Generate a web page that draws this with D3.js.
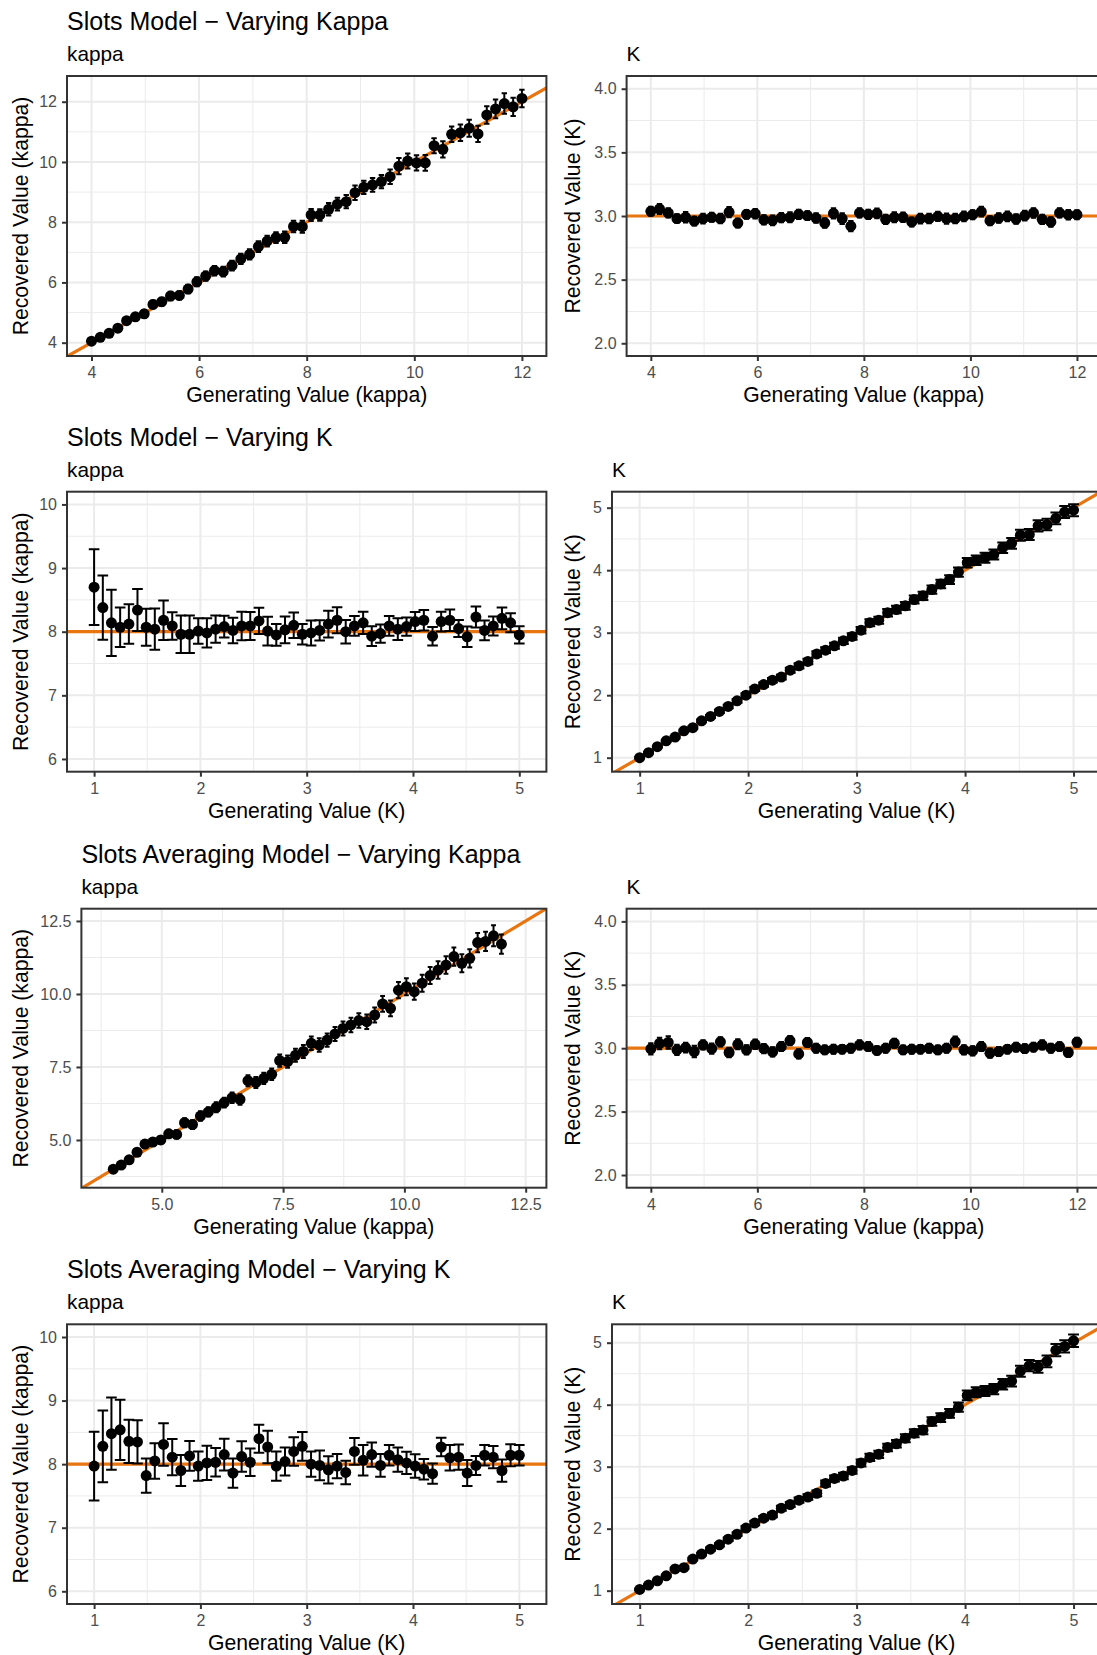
<!DOCTYPE html>
<html>
<head>
<meta charset="utf-8">
<script src="https://cdn.jsdelivr.net/npm/d3@7"></script>
<style>
  body { margin: 0; background: #fff; }
  svg { display: block; }
  text { font-family: "Liberation Sans", Arial, Helvetica, sans-serif; }
</style>
</head>
<body>
<svg id="chart" width="1097" height="1655"></svg>
<script>
// ---- generating values (50 steps each) ----
const genKappa = [4.000,4.163,4.327,4.490,4.653,4.816,4.980,5.143,5.306,5.469,5.633,5.796,5.959,6.122,6.286,6.449,6.612,6.776,6.939,7.102,7.265,7.429,7.592,7.755,7.918,8.082,8.245,8.408,8.571,8.735,8.898,9.061,9.224,9.388,9.551,9.714,9.878,10.041,10.204,10.367,10.531,10.694,10.857,11.020,11.184,11.347,11.510,11.673,11.837,12.000];
const genK = [1.000,1.082,1.163,1.245,1.327,1.408,1.490,1.571,1.653,1.735,1.816,1.898,1.980,2.061,2.143,2.224,2.306,2.388,2.469,2.551,2.633,2.714,2.796,2.878,2.959,3.041,3.122,3.204,3.286,3.367,3.449,3.531,3.612,3.694,3.776,3.857,3.939,4.020,4.102,4.184,4.265,4.347,4.429,4.510,4.592,4.673,4.755,4.837,4.918,5.000];

// fixed parameter values when the other one varies
const fixedK = 3;
const fixedKappa = 8;

// ---- Slots model, varying kappa ----
const slotsVaryKappa_kappa = [4.05,4.18,4.31,4.48,4.73,4.86,4.96,5.27,5.36,5.55,5.57,5.78,6.02,6.21,6.39,6.36,6.56,6.78,6.93,7.19,7.37,7.49,7.50,7.86,7.85,8.24,8.24,8.43,8.60,8.68,8.98,9.16,9.24,9.35,9.51,9.86,10.03,9.97,9.97,10.54,10.42,10.92,10.97,11.12,10.93,11.56,11.76,11.94,11.83,12.11];
const slotsVaryKappa_kappaErr = [0.09,0.10,0.10,0.11,0.11,0.12,0.12,0.13,0.13,0.14,0.14,0.14,0.15,0.15,0.16,0.16,0.16,0.17,0.17,0.18,0.18,0.18,0.19,0.19,0.20,0.20,0.19,0.21,0.21,0.22,0.24,0.22,0.23,0.22,0.24,0.27,0.25,0.25,0.26,0.25,0.27,0.26,0.27,0.28,0.27,0.29,0.31,0.34,0.30,0.29];
const slotsVaryKappa_K = [3.037,3.055,3.024,2.980,2.990,2.960,2.980,2.990,2.980,3.030,2.945,3.013,3.018,2.970,2.966,2.987,2.990,3.013,3.003,2.984,2.945,3.020,2.980,2.920,3.024,3.013,3.020,2.974,2.990,2.990,2.953,2.980,2.980,2.997,2.980,2.980,2.997,3.010,3.034,2.963,2.984,2.997,2.976,3.003,3.024,2.974,2.953,3.024,3.010,3.010];
const slotsVaryKappa_KErr = [0.035,0.040,0.036,0.034,0.042,0.035,0.038,0.036,0.037,0.040,0.036,0.035,0.037,0.036,0.038,0.037,0.040,0.036,0.035,0.038,0.037,0.040,0.042,0.040,0.036,0.037,0.038,0.036,0.039,0.037,0.036,0.038,0.037,0.036,0.040,0.037,0.039,0.036,0.038,0.036,0.037,0.039,0.037,0.038,0.037,0.036,0.038,0.036,0.037,0.036];

// ---- Slots model, varying K ----
const slotsVaryK_kappa = [8.70,8.38,8.14,8.07,8.12,8.34,8.07,8.04,8.18,8.09,7.96,7.96,8.01,7.98,8.04,8.08,8.02,8.09,8.09,8.17,8.01,7.95,8.03,8.10,7.96,7.98,8.02,8.12,8.18,8.00,8.09,8.14,7.93,7.97,8.09,8.04,8.08,8.16,8.18,7.93,8.16,8.18,8.05,7.92,8.23,8.02,8.09,8.21,8.14,7.95];
const slotsVaryK_kappaErr = [0.595,0.505,0.520,0.310,0.310,0.330,0.290,0.325,0.310,0.215,0.295,0.295,0.200,0.230,0.215,0.170,0.200,0.225,0.220,0.205,0.225,0.170,0.210,0.200,0.160,0.195,0.160,0.210,0.205,0.185,0.155,0.175,0.155,0.145,0.155,0.170,0.145,0.150,0.160,0.145,0.155,0.170,0.135,0.160,0.165,0.155,0.150,0.170,0.150,0.135];
const slotsVaryK_K = [1.00,1.08,1.176,1.27,1.33,1.43,1.48,1.59,1.66,1.74,1.82,1.91,2.00,2.10,2.17,2.24,2.29,2.40,2.47,2.54,2.66,2.72,2.79,2.87,2.94,3.04,3.16,3.20,3.32,3.37,3.43,3.53,3.59,3.69,3.78,3.85,3.97,4.12,4.16,4.20,4.25,4.36,4.43,4.56,4.57,4.71,4.73,4.83,4.93,4.96];
const slotsVaryK_KErr = [0.010,0.012,0.013,0.015,0.017,0.019,0.020,0.022,0.024,0.026,0.027,0.029,0.031,0.033,0.034,0.036,0.037,0.039,0.041,0.043,0.045,0.046,0.048,0.050,0.051,0.053,0.056,0.057,0.059,0.060,0.062,0.064,0.065,0.067,0.069,0.070,0.073,0.076,0.077,0.079,0.080,0.083,0.085,0.088,0.088,0.091,0.092,0.094,0.096,0.097];

// ---- Slots averaging model, varying kappa ----
const avgVaryKappa_kappa = [4.00,4.14,4.32,4.58,4.86,4.93,5.00,5.21,5.19,5.59,5.53,5.82,5.96,6.12,6.28,6.45,6.39,7.03,6.97,7.11,7.25,7.72,7.68,7.90,8.03,8.31,8.25,8.42,8.63,8.82,8.94,9.09,9.05,9.28,9.66,9.51,10.13,10.25,10.08,10.37,10.63,10.82,10.99,11.28,11.05,11.22,11.76,11.80,11.99,11.71];
const avgVaryKappa_kappaErr = [0.10,0.11,0.11,0.12,0.13,0.13,0.13,0.14,0.14,0.15,0.15,0.16,0.16,0.17,0.17,0.18,0.18,0.19,0.19,0.19,0.20,0.21,0.21,0.22,0.22,0.23,0.23,0.23,0.24,0.24,0.25,0.25,0.25,0.26,0.27,0.27,0.28,0.29,0.28,0.29,0.29,0.30,0.30,0.31,0.31,0.31,0.33,0.33,0.36,0.33];
const avgVaryKappa_K = [2.995,3.037,3.045,2.987,3.005,2.974,3.026,2.997,3.050,2.966,3.031,2.987,3.031,2.997,2.971,3.013,3.060,2.955,3.045,3.000,2.987,2.992,2.992,3.000,3.026,3.013,2.982,3.000,3.039,2.987,2.992,2.992,3.000,2.987,3.000,3.052,2.987,2.979,3.013,2.961,2.974,2.992,3.008,2.997,3.008,3.026,3.000,3.013,2.966,3.047];
const avgVaryKappa_KErr = [0.045,0.045,0.050,0.040,0.038,0.045,0.036,0.040,0.037,0.038,0.040,0.036,0.038,0.037,0.036,0.035,0.037,0.036,0.035,0.036,0.034,0.035,0.034,0.035,0.036,0.035,0.034,0.035,0.036,0.034,0.035,0.034,0.035,0.034,0.036,0.040,0.036,0.037,0.035,0.036,0.035,0.034,0.035,0.034,0.035,0.036,0.035,0.034,0.033,0.036];

// ---- Slots averaging model, varying K ----
const avgVaryK_kappa = [7.97,8.28,8.48,8.54,8.36,8.35,7.82,8.05,8.31,8.11,7.90,8.13,7.97,8.02,8.03,8.15,7.86,8.12,8.03,8.40,8.27,7.97,8.04,8.20,8.28,8.00,7.98,7.91,7.97,7.87,8.20,8.06,8.15,7.98,8.14,8.07,8.02,7.97,7.92,7.85,8.27,8.10,8.11,7.86,7.98,8.14,8.11,7.90,8.14,8.14];
const avgVaryK_kappaErr = [0.540,0.565,0.570,0.475,0.340,0.340,0.270,0.280,0.335,0.285,0.245,0.235,0.230,0.270,0.225,0.250,0.230,0.240,0.215,0.220,0.255,0.230,0.220,0.225,0.225,0.200,0.235,0.215,0.190,0.185,0.210,0.240,0.190,0.180,0.160,0.190,0.175,0.185,0.160,0.160,0.145,0.200,0.200,0.205,0.150,0.160,0.175,0.175,0.175,0.160];
const avgVaryK_K = [1.02,1.09,1.16,1.24,1.35,1.37,1.51,1.59,1.67,1.74,1.83,1.91,2.01,2.09,2.17,2.22,2.33,2.39,2.46,2.51,2.57,2.73,2.81,2.85,2.94,3.06,3.15,3.20,3.31,3.37,3.46,3.54,3.59,3.73,3.79,3.86,3.96,4.15,4.20,4.22,4.25,4.33,4.38,4.54,4.63,4.61,4.70,4.88,4.94,5.03];
const avgVaryK_KErr = [0.011,0.012,0.014,0.016,0.018,0.019,0.021,0.023,0.025,0.026,0.028,0.030,0.032,0.033,0.035,0.037,0.039,0.040,0.042,0.044,0.046,0.048,0.049,0.051,0.053,0.055,0.057,0.058,0.060,0.062,0.064,0.065,0.067,0.069,0.071,0.072,0.075,0.078,0.080,0.081,0.083,0.085,0.087,0.090,0.091,0.093,0.095,0.098,0.099,0.101];

// ---- axis limits and breaks ----
const limKappaX = [3.545, 12.455];
const limKX = [0.745, 5.255];
const limKFlat = [1.9, 4.1];
const limKappaFlat = [5.8, 10.2];
const breaksKappa = [4, 6, 8, 10, 12];
const minorKappa = [5, 7, 9, 11];
const breaksK = [1, 2, 3, 4, 5];
const minorK = [1.5, 2.5, 3.5, 4.5];
const breaksKFlat = [2.0, 2.5, 3.0, 3.5, 4.0];
const minorKFlat = [2.25, 2.75, 3.25, 3.75];
const breaksKappaFlat = [6, 7, 8, 9, 10];
const minorKappaFlat = [6.5, 7.5, 8.5, 9.5];
const breaksAvgKappa = [5.0, 7.5, 10.0, 12.5];
const minorAvgKappa = [3.75, 6.25, 8.75, 11.25];

const titles = ["Slots Model \u2212 Varying Kappa", "Slots Model \u2212 Varying K",
                "Slots Averaging Model \u2212 Varying Kappa", "Slots Averaging Model \u2212 Varying K"];

const ORANGE = "#E8750F";
const fmtInt = d3.format("d");
const fmt1 = d3.format(".1f");

const panels = [
  { row: 0, col: 0, title: titles[0], sub: "kappa", gx: genKappa, est: slotsVaryKappa_kappa, err: slotsVaryKappa_kappaErr,
    xLim: limKappaX, yLim: [3.558, 12.854], xb: breaksKappa, xm: minorKappa, yb: breaksKappa, ym: minorKappa,
    xf: fmtInt, yf: fmtInt, ref: "identity", xlab: "Generating Value (kappa)", ylab: "Recovered Value (kappa)" },
  { row: 0, col: 1, sub: "K", gx: genKappa, est: slotsVaryKappa_K, err: slotsVaryKappa_KErr,
    xLim: limKappaX, yLim: limKFlat, xb: breaksKappa, xm: minorKappa, yb: breaksKFlat, ym: minorKFlat,
    xf: fmtInt, yf: fmt1, ref: fixedK, xlab: "Generating Value (kappa)", ylab: "Recovered Value (K)" },
  { row: 1, col: 0, title: titles[1], sub: "kappa", gx: genK, est: slotsVaryK_kappa, err: slotsVaryK_kappaErr,
    xLim: limKX, yLim: limKappaFlat, xb: breaksK, xm: minorK, yb: breaksKappaFlat, ym: minorKappaFlat,
    xf: fmtInt, yf: fmtInt, ref: fixedKappa, xlab: "Generating Value (K)", ylab: "Recovered Value (kappa)" },
  { row: 1, col: 1, sub: "K", gx: genK, est: slotsVaryK_K, err: slotsVaryK_KErr,
    xLim: limKX, yLim: [0.776, 5.256], xb: breaksK, xm: minorK, yb: breaksK, ym: minorK,
    xf: fmtInt, yf: fmtInt, ref: "identity", xlab: "Generating Value (K)", ylab: "Recovered Value (K)" },
  { row: 2, col: 0, title: titles[2], sub: "kappa", gx: genKappa, est: avgVaryKappa_kappa, err: avgVaryKappa_kappaErr,
    xLim: [3.343, 12.927], yLim: [3.366, 12.92], xb: breaksAvgKappa, xm: minorAvgKappa, yb: breaksAvgKappa, ym: minorAvgKappa,
    xf: fmt1, yf: fmt1, ref: "identity", xlab: "Generating Value (kappa)", ylab: "Recovered Value (kappa)" },
  { row: 2, col: 1, sub: "K", gx: genKappa, est: avgVaryKappa_K, err: avgVaryKappa_KErr,
    xLim: limKappaX, yLim: limKFlat, xb: breaksKappa, xm: minorKappa, yb: breaksKFlat, ym: minorKFlat,
    xf: fmtInt, yf: fmt1, ref: fixedK, xlab: "Generating Value (kappa)", ylab: "Recovered Value (K)" },
  { row: 3, col: 0, title: titles[3], sub: "kappa", gx: genK, est: avgVaryK_kappa, err: avgVaryK_kappaErr,
    xLim: limKX, yLim: limKappaFlat, xb: breaksK, xm: minorK, yb: breaksKappaFlat, ym: minorKappaFlat,
    xf: fmtInt, yf: fmtInt, ref: fixedKappa, xlab: "Generating Value (K)", ylab: "Recovered Value (kappa)" },
  { row: 3, col: 1, sub: "K", gx: genK, est: avgVaryK_K, err: avgVaryK_KErr,
    xLim: limKX, yLim: [0.785, 5.297], xb: breaksK, xm: minorK, yb: breaksK, ym: minorK,
    xf: fmtInt, yf: fmtInt, ref: "identity", xlab: "Generating Value (K)", ylab: "Recovered Value (K)" }
];

// ---- layout ----
const rowTop = [76, 491.7, 908.7, 1324.3];
const rowBottom = [356, 771.7, 1187.7, 1604];
function panelBox(p) {
  let l, r;
  if (p.col === 0) { l = p.row === 2 ? 81.4 : 67; r = 546.4; }
  else { l = (p.row % 2 === 0) ? 626.6 : 612; r = 1101.2; }
  return { l, r, t: rowTop[p.row], b: rowBottom[p.row] };
}

const FONT = '"Liberation Sans", Arial, sans-serif';
const svg = d3.select("#chart");
svg.append("rect").attr("width", 1097).attr("height", 1655).attr("fill", "#fff");

panels.forEach((p, i) => {
  const box = panelBox(p);
  const x = d3.scaleLinear().domain(p.xLim).range([box.l, box.r]);
  const y = d3.scaleLinear().domain(p.yLim).range([box.b, box.t]);
  const g = svg.append("g");

  const clipId = "clip" + i;
  svg.append("clipPath").attr("id", clipId)
    .append("rect").attr("x", box.l).attr("y", box.t).attr("width", box.r - box.l).attr("height", box.b - box.t);

  // minor grid
  const grid = g.append("g");
  grid.selectAll(".vminor").data(p.xm).join("line")
    .attr("x1", d => x(d)).attr("x2", d => x(d)).attr("y1", box.t).attr("y2", box.b)
    .attr("stroke", "#EBEBEB").attr("stroke-width", 1);
  grid.selectAll(".hminor").data(p.ym).join("line")
    .attr("y1", d => y(d)).attr("y2", d => y(d)).attr("x1", box.l).attr("x2", box.r)
    .attr("stroke", "#EBEBEB").attr("stroke-width", 1);
  // major grid
  grid.selectAll(".vmajor").data(p.xb).join("line")
    .attr("x1", d => x(d)).attr("x2", d => x(d)).attr("y1", box.t).attr("y2", box.b)
    .attr("stroke", "#EBEBEB").attr("stroke-width", 2);
  grid.selectAll(".hmajor").data(p.yb).join("line")
    .attr("y1", d => y(d)).attr("y2", d => y(d)).attr("x1", box.l).attr("x2", box.r)
    .attr("stroke", "#EBEBEB").attr("stroke-width", 2);

  const plot = g.append("g").attr("clip-path", `url(#${clipId})`);

  // reference line: identity or the fixed true value
  const refPts = p.ref === "identity"
    ? [[p.xLim[0], p.xLim[0]], [p.xLim[1], p.xLim[1]]]
    : [[p.xLim[0], p.ref], [p.xLim[1], p.ref]];
  plot.append("path")
    .attr("d", d3.line().x(d => x(d[0])).y(d => y(d[1]))(refPts))
    .attr("stroke", ORANGE).attr("stroke-width", 3.2).attr("fill", "none");

  const rows = p.gx.map((gv, j) => ({ gx: gv, est: p.est[j], err: p.err[j] }));
  const capHalf = 0.05; // error bar width of 0.1 in x units

  // error bars
  const eb = plot.append("g").attr("stroke", "#000").attr("stroke-width", 2).attr("fill", "none");
  eb.selectAll("path").data(rows).join("path")
    .attr("d", d => {
      const xl = x(d.gx - capHalf), xr = x(d.gx + capHalf), xc = x(d.gx);
      const yt = y(d.est + d.err), yb = y(d.est - d.err);
      return `M${xl},${yt}H${xr}M${xc},${yt}V${yb}M${xl},${yb}H${xr}`;
    });

  // points
  plot.append("g").selectAll("circle").data(rows).join("circle")
    .attr("cx", d => x(d.gx)).attr("cy", d => y(d.est)).attr("r", 5.5).attr("fill", "#000");

  // panel border
  g.append("rect").attr("x", box.l).attr("y", box.t)
    .attr("width", box.r - box.l).attr("height", box.b - box.t)
    .attr("fill", "none").attr("stroke", "#333333").attr("stroke-width", 2);

  // axes
  const ax = g.append("g").attr("transform", `translate(0,${box.b})`)
    .call(d3.axisBottom(x).tickValues(p.xb).tickFormat(p.xf).tickSize(5).tickPadding(5.8));
  const ay = g.append("g").attr("transform", `translate(${box.l},0)`)
    .call(d3.axisLeft(y).tickValues(p.yb).tickFormat(p.yf).tickSize(5).tickPadding(5));
  [ax, ay].forEach(a => {
    a.attr("font-size", null).attr("font-family", null);
    a.select(".domain").remove();
    a.selectAll(".tick line").attr("stroke", "#333333").attr("stroke-width", 2);
    a.selectAll(".tick text").attr("fill", "#4D4D4D").style("font-size", "16px")
      .style("font-family", FONT);
  });

  // axis titles
  g.append("text").attr("x", (box.l + box.r) / 2).attr("y", box.b + 46)
    .attr("text-anchor", "middle").style("font-size", "21.2px").attr("fill", "#000").text(p.xlab);
  const yx = p.col === 0 ? 27.5 : 579.5;
  g.append("text").attr("transform", `translate(${yx},${(box.t + box.b) / 2}) rotate(-90)`)
    .attr("text-anchor", "middle").style("font-size", "21.2px").attr("fill", "#000").text(p.ylab);

  // panel label and row title
  g.append("text").attr("x", box.l).attr("y", box.t - 15)
    .style("font-size", "20.8px").attr("fill", "#000").text(p.sub);
  if (p.title) {
    g.append("text").attr("x", box.l).attr("y", box.t - 46)
      .style("font-size", "25px").attr("fill", "#000").text(p.title);
  }
});
</script>
</body>
</html>
